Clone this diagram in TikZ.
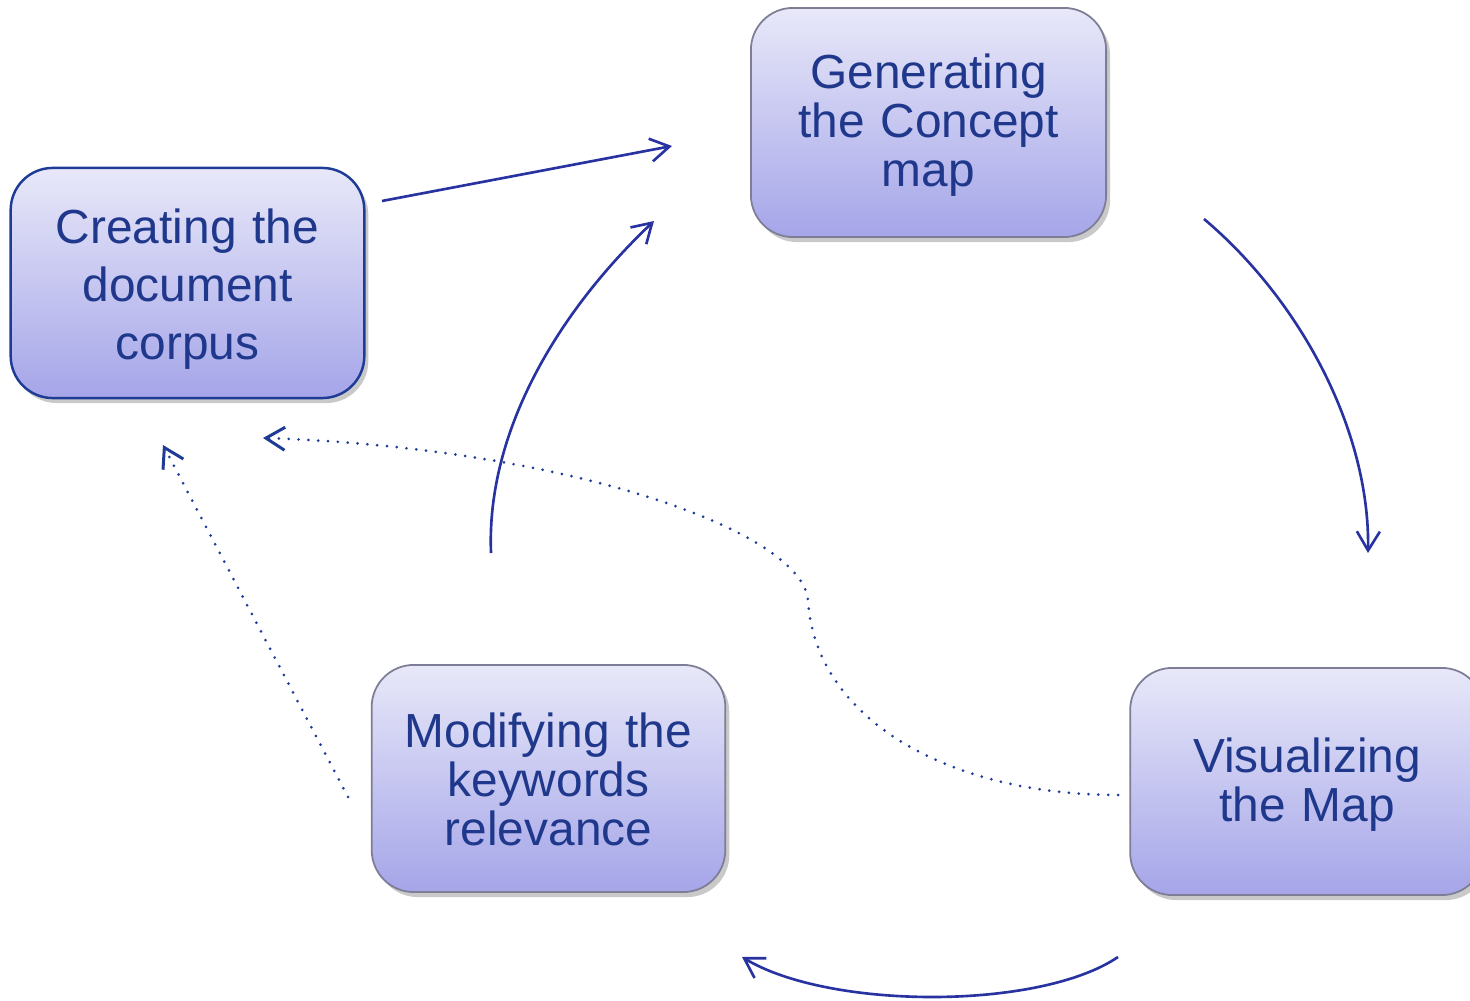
\documentclass[tikz,border=0pt]{standalone}
\usepackage{fontspec}
\setmainfont{Liberation Sans}
\usetikzlibrary{arrows.meta,shadows}

\definecolor{txtblue}{RGB}{31,56,140}
\definecolor{lineblue}{RGB}{40,50,160}
\definecolor{edgeblue}{RGB}{30,60,150}
\definecolor{edgegray}{RGB}{125,125,150}
\definecolor{boxtop}{RGB}{232,232,249}
\definecolor{boxbottom}{RGB}{165,165,233}

\tikzset{
  stepbox/.style={
    rectangle, rounded corners=0.42cm,
    top color=boxtop, bottom color=boxbottom,
    draw=edgegray, line width=0.5pt,
    minimum width=3.51cm, minimum height=2.28cm,
    text width=3.3cm, align=center, text=txtblue,
    font=\fontsize{13.6}{14}\selectfont,
    drop shadow={shadow xshift=0.4mm, shadow yshift=-0.5mm, opacity=0.3, fill=black!70}
  },
  % taller first line, so that the text block sits a little lower
  lift/.style={execute at begin node={\rule{0pt}{#1}}},
  flow/.style={draw=lineblue, line width=0.75pt,
    -{Straight Barb[length=1.9mm,width=2.3mm]}},
  backflow/.style={flow, draw=edgeblue, line width=0.85pt, line cap=round,
    dash pattern=on 0pt off 2.8pt}
}

\begin{document}
\begin{tikzpicture}[x=0.01cm, y=-0.01cm]
  \useasboundingbox (0,0) rectangle (1470,1001);
  \clip (0,0) rectangle (1470,1001);

  % process steps
  \node[stepbox, draw=edgeblue, line width=0.7pt, minimum width=3.51cm, minimum height=2.30cm,
        font=\fontsize{13.6}{16.5}\selectfont, lift=13.2pt] (corpus) at (187.5,283) {Creating the\\document\\corpus};
  \node[stepbox, minimum width=3.55cm, minimum height=2.29cm, lift=11.5pt] (concept) at (928.5,122.5) {Generating\\the Concept\\map};
  \node[stepbox, minimum width=3.50cm, minimum height=2.27cm, lift=11.5pt] (visual) at (1307,781.5) {Visualizing\\the Map};
  \node[stepbox, minimum width=3.51cm, minimum height=2.27cm, lift=10.4pt] (modify) at (548.5,778.5) {Modifying the\\keywords\\relevance};

  % connector end points
  \coordinate (c1s) at (382,201);   \coordinate (c1e) at (672,146);
  \coordinate (c2s) at (1204,219);  \coordinate (c2e) at (1368,553);
  \coordinate (c3s) at (1118,957);  \coordinate (c3e) at (742,957);
  \coordinate (c4s) at (491,553);   \coordinate (c4e) at (654,221);
  \coordinate (d1s) at (348,797);   \coordinate (d1e) at (163,445);
  \coordinate (d2s) at (1118,795);  \coordinate (d2m) at (808,600);
  \coordinate (d2e) at (263,438);

  % main cycle
  \draw[flow] (c1s) -- (c1e);
  \draw[flow] (c2s) .. controls (1300,300) and (1370,430) .. (c2e);
  \draw[flow] (c3s) .. controls (1040,1010) and (830,1010) .. (c3e);
  \draw[flow] (c4s) .. controls (486,430) and (560,310) .. (c4e);

  % feedback paths
  \draw[backflow] (d1s) -- (d1e);
  \draw[backflow] (d2s) .. controls (950,795) and (815,720) .. (d2m)
                        .. controls (801,530) and (565,448) .. (d2e);
\end{tikzpicture}
\end{document}
